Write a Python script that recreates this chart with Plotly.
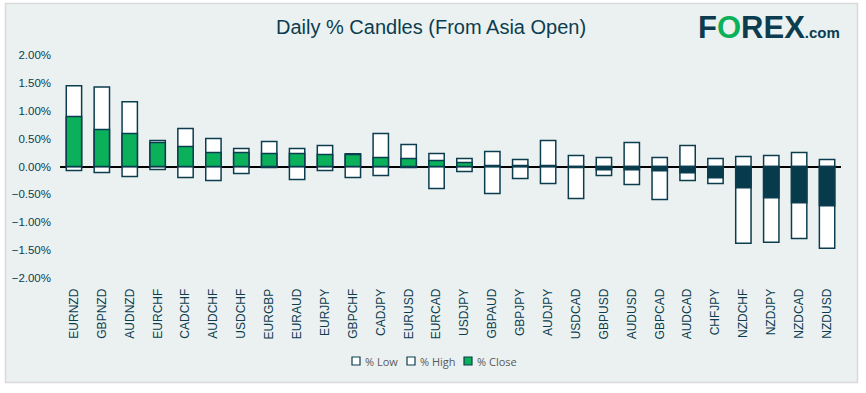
import plotly.graph_objects as go

pairs = ["EURNZD", "GBPNZD", "AUDNZD", "EURCHF", "CADCHF", "AUDCHF", "USDCHF", "EURGBP",
         "EURAUD", "EURJPY", "GBPCHF", "CADJPY", "EURUSD", "EURCAD", "USDJPY", "GBPAUD",
         "GBPJPY", "AUDJPY", "USDCAD", "GBPUSD", "AUDUSD", "GBPCAD", "AUDCAD", "CHFJPY",
         "NZDCHF", "NZDJPY", "NZDCAD", "NZDUSD"]
pct_low = [-0.071, -0.107, -0.18, -0.054, -0.196, -0.25, -0.125, -0.018,
           -0.232, -0.071, -0.196, -0.16, -0.018, -0.393, -0.089, -0.482,
           -0.214, -0.304, -0.571, -0.16, -0.32, -0.589, -0.25, -0.304,
           -1.375, -1.357, -1.286, -1.464]
pct_high = [1.446, 1.42, 1.16, 0.464, 0.68, 0.5, 0.32, 0.446,
            0.32, 0.375, 0.228, 0.59, 0.393, 0.232, 0.143, 0.268,
            0.125, 0.464, 0.196, 0.16, 0.43, 0.16, 0.375, 0.143,
            0.179, 0.196, 0.25, 0.125]
pct_close = [0.893, 0.66, 0.59, 0.43, 0.357, 0.25, 0.25, 0.232,
             0.232, 0.214, 0.214, 0.16, 0.143, 0.107, 0.071, 0.018,
             0.018, 0.018, -0.018, -0.06, -0.06, -0.077, -0.113, -0.202,
             -0.381, -0.56, -0.649, -0.702]
y_ticks = [2.0, 1.5, 1.0, 0.5, 0.0, -0.5, -1.0, -1.5, -2.0]
legend_names = ["% Low", "% High", "% Close"]

W, H = 866, 393
OUT = "#0B3D4F"
NAVY = "#073B4C"
GREEN = "#0BB15A"
BG = "#EBF1F1"
BW = 0.55

fig = go.Figure()
fig.add_trace(go.Bar(x=pairs, y=[v / 100 for v in pct_low], base=0, name=legend_names[0],
                     width=BW, marker=dict(color="white", line=dict(color=OUT, width=1.5))))
fig.add_trace(go.Bar(x=pairs, y=[v / 100 for v in pct_high], base=0, name=legend_names[1],
                     width=BW, marker=dict(color="white", line=dict(color=OUT, width=1.5))))
fig.add_trace(go.Bar(x=pairs, y=[v / 100 for v in pct_close], base=0, name=legend_names[2],
                     width=BW,
                     marker=dict(color=[GREEN if v >= 0 else NAVY for v in pct_close],
                                 line=dict(color=OUT, width=1.5))))

x0, x1 = 60 / W, 841 / W
y_top, y_bot = 1 - 54.7 / H, 1 - 278.3 / H

shapes = [dict(type="rect", xref="paper", yref="paper", x0=5.5 / W, x1=857.5 / W,
               y0=1 - 382.5 / H, y1=1 - 3.5 / H, fillcolor=BG,
               line=dict(color="#D9D9D9", width=1.5), layer="below")]
annotations = [
    dict(text="Daily % Candles (From Asia Open)", xref="paper", yref="paper",
         x=431 / W, y=1 - 27 / H, xanchor="center", yanchor="middle", showarrow=False,
         font=dict(family="Liberation Sans, Arial", size=20, color=OUT)),
    dict(text="<b>F<span style='color:#0BB15A'>O</span>REX</b><b><span style='font-size:15px'>.com</span></b>",
         xref="paper", yref="paper", x=696 / W, y=1 - 27 / H, xanchor="left", yanchor="middle",
         showarrow=False, font=dict(family="Liberation Sans, Arial", size=31, color=OUT)),
]
# manual legend
leg_x = [352, 407, 464]
leg_fill = ["white", "white", GREEN]
ly = 361
for lx, name, fc in zip(leg_x, legend_names, leg_fill):
    shapes.append(dict(type="rect", xref="paper", yref="paper",
                       x0=lx / W, x1=(lx + 8) / W, y0=1 - (ly + 4) / H, y1=1 - (ly - 4) / H,
                       fillcolor=fc, line=dict(color=OUT, width=1.2)))
    annotations.append(dict(text=name, xref="paper", yref="paper", x=(lx + 11) / W, y=1 - ly / H,
                            xanchor="left", yanchor="middle", showarrow=False,
                            font=dict(family="Open Sans, Liberation Sans", size=11, color="#595959")))

fig.update_layout(
    width=W, height=H,
    margin=dict(l=0, r=0, t=0, b=0, autoexpand=False),
    paper_bgcolor="white",
    plot_bgcolor="rgba(0,0,0,0)",
    barmode="overlay",
    showlegend=False,
    xaxis=dict(domain=[x0, x1], type="category", tickangle=-90, showgrid=False, automargin=False,
               showline=False, ticks="", ticklabelstandoff=7,
               tickfont=dict(family="Liberation Sans, Arial", size=12, color=OUT)),
    yaxis=dict(domain=[y_bot, y_top], range=[-0.02, 0.02], tickvals=[v / 100 for v in y_ticks],
               tickformat=".2%", showgrid=False, zeroline=True, zerolinecolor="black",
               zerolinewidth=1.5, ticks="", ticklabelstandoff=8, automargin=False,
               tickfont=dict(family="Liberation Sans, Arial", size=11.5, color=OUT)),
    font=dict(family="Liberation Sans, Arial"),
    shapes=shapes,
    annotations=annotations,
)

fig.write_html("out.html", config={"displayModeBar": False},
               post_script="document.body.style.margin='0px';")
